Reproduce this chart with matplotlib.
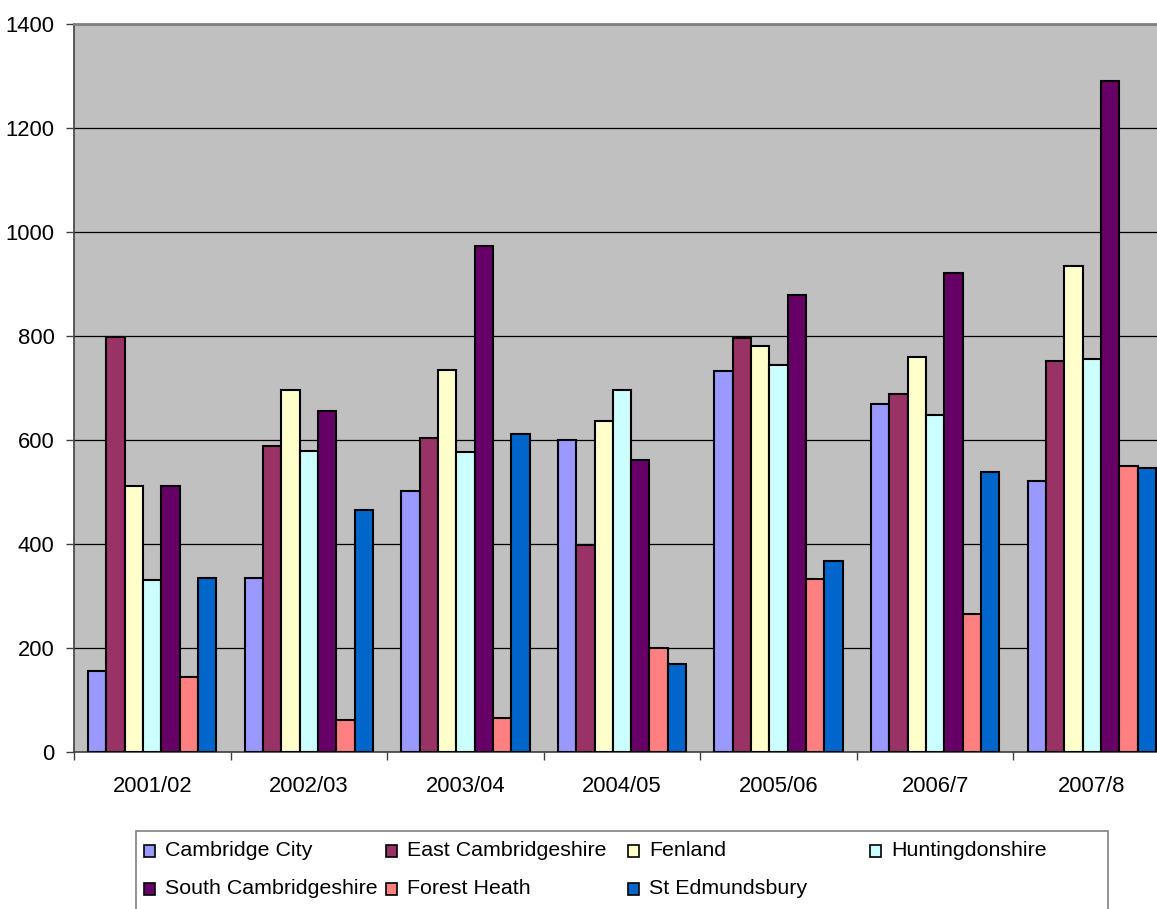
import matplotlib
matplotlib.use("Agg")
import matplotlib.pyplot as plt
from matplotlib.patches import Rectangle
import numpy as np

# datos por distrito y por año
years = ['2001/02', '2002/03', '2003/04', '2004/05', '2005/06', '2006/7', '2007/8']
districts = ['Cambridge City', 'East Cambridgeshire', 'Fenland', 'Huntingdonshire',
             'South Cambridgeshire', 'Forest Heath', 'St Edmundsbury']

cambridge_city = [156, 334, 501, 600, 732, 669, 522]
east_cambs = [798, 588, 604, 399, 796, 688, 752]
fenland = [512, 696, 735, 636, 780, 759, 935]
huntingdonshire = [330, 579, 576, 696, 744, 649, 756]
south_cambs = [512, 655, 973, 561, 879, 922, 1291]
forest_heath = [145, 61, 65, 200, 332, 265, 550]
st_edmundsbury = [334, 465, 612, 169, 368, 538, 546]

series = [cambridge_city, east_cambs, fenland, huntingdonshire,
          south_cambs, forest_heath, st_edmundsbury]
colores = ['#9999FF', '#993366', '#FFFFCC', '#CCFFFF', '#660066', '#FF8080', '#0066CC']


def app():
    plt.rcParams['font.family'] = ['Liberation Sans', 'DejaVu Sans']
    W, H = 1157, 909
    fig = plt.figure(figsize=(W / 100, H / 100), dpi=100)

    def grafico():
        # el area de dibujo se sale un poco por la derecha, como en el original
        ax = fig.add_axes([74 / W, 157 / H, 1096 / W, 728 / H])
        ax.set_facecolor('#C0C0C0')
        x = np.arange(len(years))
        ancho = 0.117
        for i, (vals, c) in enumerate(zip(series, colores)):
            ax.bar(x + (i - 3) * ancho, vals, ancho, color=c, edgecolor='black',
                   linewidth=1.5, label=districts[i], zorder=3)

        ax.set_xlim(-0.5, len(years) - 0.5)
        ax.set_ylim(0, 1400)
        ax.set_yticks(range(0, 1401, 200))
        ax.yaxis.grid(True, color='black', linewidth=0.9, zorder=1)
        ax.tick_params(axis='y', length=6, width=1, color='#404040', pad=8, labelsize=15.8)

        ax.set_xticks(x)
        ax.set_xticklabels(years)
        ax.set_xticks(np.arange(len(years) + 1) - 0.5, minor=True)
        ax.tick_params(axis='x', which='major', length=0, pad=17, labelsize=15.8)
        ax.tick_params(axis='x', which='minor', length=6, width=1, color='#404040')

        for lado in ['left', 'bottom']:
            ax.spines[lado].set_color('#404040')
            ax.spines[lado].set_linewidth(1.2)
        ax.spines['top'].set_color('#808080')
        ax.spines['top'].set_linewidth(2)
        ax.spines['top'].set_zorder(4)
        ax.spines['right'].set_visible(False)
    grafico()

    def leyenda():
        # caja de la leyenda en pixeles de la figura
        fig.patches.append(Rectangle((136 / W, (H - 940) / H), (1108 - 136) / W, 109 / H,
                                     transform=fig.transFigure, facecolor='white',
                                     edgecolor='#808080', linewidth=1.2))
        for i, nombre in enumerate(districts):
            fila, col = divmod(i, 4)
            px = 144 + col * 242
            py = 851 + fila * 38
            fig.patches.append(Rectangle((px / W, (H - py - 6) / H), 11 / W, 12 / H,
                                         transform=fig.transFigure, facecolor=colores[i],
                                         edgecolor='black', linewidth=1.2))
            fig.text((px + 21) / W, (H - py) / H, nombre, fontsize=15.4,
                     va='center', ha='left')
    leyenda()

    fig.savefig('out.png', dpi=100)
    plt.close()


if __name__ == "__main__":
    app()
